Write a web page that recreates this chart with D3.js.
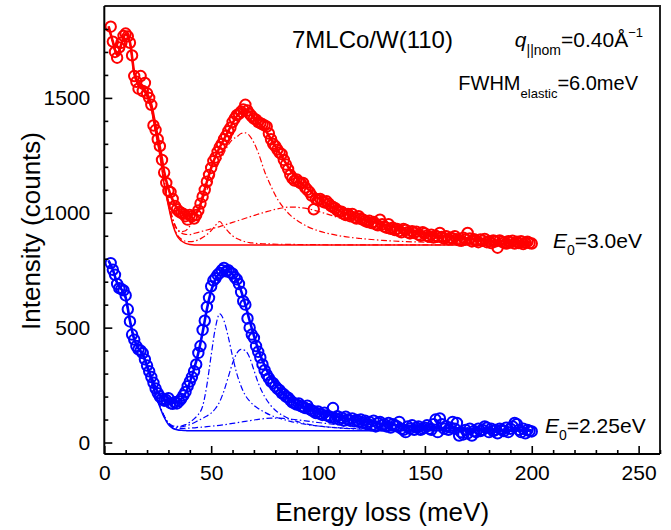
<!DOCTYPE html>
<html>
<head>
<meta charset="utf-8">
<script src="https://cdn.jsdelivr.net/npm/d3@7"></script>
<style>
  body { margin: 0; background: #fff; }
  svg { font-family: "Liberation Sans", Arial, sans-serif; }
</style>
</head>
<body>
<svg id="chart" width="671" height="530"></svg>
<script>
// ---------------- DATA ----------------
// measured energies (meV), regular 1 meV grid from 3 to 200
const energy = d3.range(3, 201, 1);

const redCounts = [
  1810,1745,1700,1675,1720,1740,1770,1780,1768,1740,
  1685,1595,1570,1540,1595,1530,1565,1520,1500,1470,
  1380,1360,1320,1290,1230,1175,1130,1095,1090,1060,
  1030,1015,1005,1000,995,985,970,990,984,975,
  990,1010,1040,1070,1100,1135,1165,1195,1225,1240,
  1265,1285,1300,1320,1335,1355,1370,1395,1410,1425,
  1430,1440,1450,1470,1445,1430,1420,1410,1405,1395,
  1390,1385,1380,1375,1345,1320,1300,1290,1275,1262,
  1255,1230,1210,1190,1165,1150,1140,1145,1135,1128,
  1130,1110,1100,1090,1075,1015,1060,1055,1060,1050,
  1045,1050,1040,1030,1025,1020,1010,1005,1005,995,
  990,995,985,995,980,975,985,975,970,965,
  960,965,955,960,950,945,970,950,940,935,
  950,930,935,925,930,920,915,930,925,915,
  910,920,912,918,905,900,915,910,900,895,
  905,892,900,895,912,895,888,898,885,892,
  888,898,885,880,878,892,885,912,888,875,
  885,878,872,884,878,886,872,876,868,880,
  875,848,880,874,870,866,876,870,878,866,
  874,868,876,864,870,874,868,866
];

const blueCounts = [
  781,752,730,690,672,668,662,640,580,527,
  470,448,420,405,400,389,362,335,310,285,
  260,235,215,200,190,182,185,193,171,168,
  175,170,180,190,205,220,245,265,285,310,
  340,390,420,490,530,590,630,680,705,715,
  730,738,750,760,745,750,740,735,720,710,
  690,655,615,600,540,500,470,455,420,395,
  370,340,315,295,280,265,258,245,235,228,
  215,210,200,195,185,175,170,165,170,158,
  155,150,160,145,140,135,128,135,125,120,
  130,118,115,110,150,105,115,100,108,95,
  112,100,95,105,92,98,90,100,85,95,
  80,90,75,95,70,85,90,75,80,70,
  85,65,80,75,70,90,60,55,45,70,
  60,75,55,65,70,55,60,65,75,60,
  55,80,100,45,105,80,60,70,55,65,
  90,60,85,30,45,35,55,40,60,30,
  50,45,60,50,55,70,65,45,60,50,
  55,40,60,55,50,65,45,60,70,85,
  80,55,45,60,40,55,50,48
];

// fit curves, sampled on this energy grid (meV)
const fitEnergy = [2,4,6,8,10,12,14,16,18,20,22,24,26,28,30,32,34,36,38,40,
  42,44,46,48,50,52,54,56,58,60,62,64,66,68,70,72,75,78,81,84,87,90,95,100,
  110,120,130,140,150,160,170,180,190,200];

const redTotal = [1812,1745,1688,1735,1778,1742,1610,1560,1545,1520,
  1470,1375,1285,1180,1105,1055,1020,1000,990,988,
  995,1010,1070,1135,1195,1245,1285,1320,1355,1390,
  1420,1440,1450,1438,1415,1395,
  1365,1320,1275,1230,1185,1150,
  1105,1065,
  1008,975,950,928,910,897,887,879,874,870];
const redBase = [1808,1742,1685,1732,1775,1738,1602,1550,1535,1505,
  1450,1350,1250,1125,1030,950,900,878,867,862,
  860,860,860,860,860,860,860,860,860,860,
  860,860,860,860,860,860,
  860,860,860,860,860,860,
  860,860,
  860,860,860,860,860,860,860,860,860,860];
const redMain = [1809,1743,1686,1733,1776,1739,1604,1553,1538,1509,
  1456,1358,1262,1140,1045,970,928,918,922,942,
  975,1020,1060,1100,1140,1185,1225,1260,1295,1320,
  1330,1345,1348,1335,1305,1262,
  1180,1115,1060,1020,990,968,
  940,922,
  900,888,880,875,872,870,868,867,866,865];
const redSmall = [1809,1743,1686,1733,1776,1739,1604,1553,1538,1508,
  1453,1354,1254,1130,1034,955,906,886,876,874,
  876,882,892,905,922,945,962,940,918,900,
  888,880,874,870,868,866,
  865,864,863,863,862,862,
  861,861,
  860,860,860,860,860,860,860,860,860,860];
const redBroad = [1809,1744,1688,1735,1778,1742,1608,1558,1544,1515,
  1461,1366,1267,1144,1050,975,930,912,906,905,
  910,915,920,925,930,935,940,946,952,958,
  964,970,976,982,988,994,
  1002,1010,1017,1022,1025,1024,
  1018,1006,
  978,950,928,912,900,892,886,881,878,875];

const blueTotal = [792,752,695,668,632,530,450,410,385,335,
  285,238,205,188,178,172,175,190,215,262,
  320,390,480,580,660,710,738,748,745,732,
  705,660,600,530,465,405,
  335,280,240,210,188,170,
  150,135,
  110,95,82,73,67,62,58,56,54,53];
const blueBase = [790,750,693,666,628,528,447,405,378,325,
  268,208,155,110,78,62,56,53,52,51,
  51,51,51,51,51,51,51,51,51,51,
  51,51,51,51,51,51,
  51,51,51,51,51,51,
  51,51,
  51,51,51,51,51,51,51,51,51,51];
const blueComp1 = [791,751,694,667,630,530,449,408,381,329,
  272,213,160,116,86,73,70,72,78,88,
  103,122,158,250,380,500,560,530,460,375,
  300,245,205,180,162,148,
  132,118,108,100,92,86,
  78,72,
  64,60,57,55,54,53,52,52,51,51];
const blueComp2 = [791,751,694,667,630,530,449,408,380,328,
  271,211,159,114,84,70,66,68,72,78,
  86,96,105,115,128,148,178,225,285,345,
  388,405,400,370,315,260,
  200,160,133,115,102,92,
  80,72,
  63,58,56,54,53,52,52,51,51,51];
const blueComp3 = [791,751,694,667,630,530,449,407,380,327,
  270,210,158,113,82,67,62,61,62,63,
  64,66,67,69,71,73,75,77,80,83,
  86,89,92,95,98,101,
  104,106,106,105,102,99,
  93,87,
  77,69,64,60,57,55,54,53,52,52];

const xMajorTicks = [0, 50, 100, 150, 200, 250];
const xMinorTicks = [10,20,30,40,60,70,80,90,110,120,130,140,160,170,180,190,210,220,230,240,260];
const yMajorTicks = [0, 500, 1000, 1500];
const yMinorTicks = [100,200,300,400,600,700,800,900,1100,1200,1300,1400,1600,1700,1800];

// ---------------- CHART ----------------
const svg = d3.select("#chart");
const L = 104.3, R = 660, T = 6, B = 454;

const x = d3.scaleLinear().domain([0, 260]).range([L, R]);
const y = d3.scaleLinear().domain([-50, 1900]).range([B, T]);

const RED = "#ff0000", BLUE = "#0000ff";

const line = (vals) => d3.line()
  .x((d, i) => x(fitEnergy[i]))
  .y((d) => y(d))
  .curve(d3.curveMonotoneX)(vals);

const plot = svg.append("g");

function drawSeries(color, comps, base, total, counts) {
  comps.forEach(c => {
    plot.append("path").attr("d", line(c))
      .attr("fill", "none").attr("stroke", color)
      .attr("stroke-width", 1.2).attr("stroke-dasharray", "6,2.5,1.5,2.5");
  });
  plot.append("path").attr("d", line(base))
    .attr("fill", "none").attr("stroke", color).attr("stroke-width", 1.5);
  plot.append("g").selectAll("circle").data(counts).join("circle")
    .attr("cx", (d, i) => x(energy[i]))
    .attr("cy", d => y(d))
    .attr("r", 5.2)
    .attr("fill", "none").attr("stroke", color).attr("stroke-width", 2);
  plot.append("path").attr("d", line(total))
    .attr("fill", "none").attr("stroke", color).attr("stroke-width", 2.6);
}

drawSeries(RED, [redMain, redSmall, redBroad], redBase, redTotal, redCounts);
drawSeries(BLUE, [blueComp1, blueComp2, blueComp3], blueBase, blueTotal, blueCounts);

// frame (top and right)
svg.append("path")
  .attr("d", `M${L},${T}H${R}V${B}`)
  .attr("fill", "none").attr("stroke", "#222").attr("stroke-width", 2);

// axes
const fontTick = "21px";
const xAxis = svg.append("g").attr("transform", `translate(0,${B})`)
  .call(d3.axisBottom(x).tickValues(xMajorTicks).tickFormat(d3.format("d")).tickSize(-8).tickSizeOuter(0).tickPadding(11));
const xMinor = svg.append("g").attr("transform", `translate(0,${B})`)
  .call(d3.axisBottom(x).tickValues(xMinorTicks).tickSize(-4).tickSizeOuter(0).tickFormat(""));
const yAxis = svg.append("g").attr("transform", `translate(${L},0)`)
  .call(d3.axisLeft(y).tickValues(yMajorTicks).tickFormat(d3.format("d")).tickSize(-8).tickSizeOuter(0).tickPadding(14));
const yMinor = svg.append("g").attr("transform", `translate(${L},0)`)
  .call(d3.axisLeft(y).tickValues(yMinorTicks).tickSize(-4).tickSizeOuter(0).tickFormat(""));

[xAxis, xMinor, yAxis, yMinor].forEach(g => {
  g.select(".domain").attr("stroke", "#000").attr("stroke-width", 2);
  g.selectAll(".tick line").attr("stroke", "#000").attr("stroke-width", 1.6);
  g.selectAll("text").attr("font-size", fontTick).attr("fill", "#000")
    .attr("font-family", "'Liberation Sans', Arial, sans-serif");
});
xMinor.select(".domain").remove();
yMinor.select(".domain").remove();
// axis lines span the full plot
yAxis.select(".domain").attr("d", `M0,${B}V${T}`);
xAxis.select(".domain").attr("d", `M${L},0H${R}`);

// axis titles
svg.append("text").attr("x", (L + R) / 2).attr("y", 521)
  .attr("text-anchor", "middle").attr("font-size", "26px").text("Energy loss (meV)");
svg.append("text").attr("transform", "translate(40,231) rotate(-90)")
  .attr("text-anchor", "middle").attr("font-size", "26px").text("Intensity (counts)");

// annotations
svg.append("text").attr("x", 292).attr("y", 48).attr("font-size", "24px").text("7MLCo/W(110)");

const q = svg.append("text").attr("x", 643).attr("y", 47).attr("text-anchor", "end").attr("font-size", "21px");
q.append("tspan").attr("font-style", "italic").text("q");
q.append("tspan").attr("font-size", "14px").attr("dy", 8).text("||nom");
q.append("tspan").attr("dy", -8).text("=0.40Å");
q.append("tspan").attr("font-size", "13px").attr("dy", -10).text("−1");

const fw = svg.append("text").attr("x", 638).attr("y", 90).attr("text-anchor", "end").attr("font-size", "20px");
fw.append("tspan").text("FWHM");
fw.append("tspan").attr("font-size", "13px").attr("dy", 8).text("elastic");
fw.append("tspan").attr("dy", -8).text("=6.0meV");

function eLabel(xp, yp, val) {
  const t = svg.append("text").attr("x", xp).attr("y", yp).attr("font-size", "21px");
  t.append("tspan").attr("font-style", "italic").text("E");
  t.append("tspan").attr("font-size", "14px").attr("dy", 7).text("0");
  t.append("tspan").attr("dy", -7).text(val);
}
eLabel(553, 248, "=3.0eV");
eLabel(545, 433, "=2.25eV");
</script>
</body>
</html>
